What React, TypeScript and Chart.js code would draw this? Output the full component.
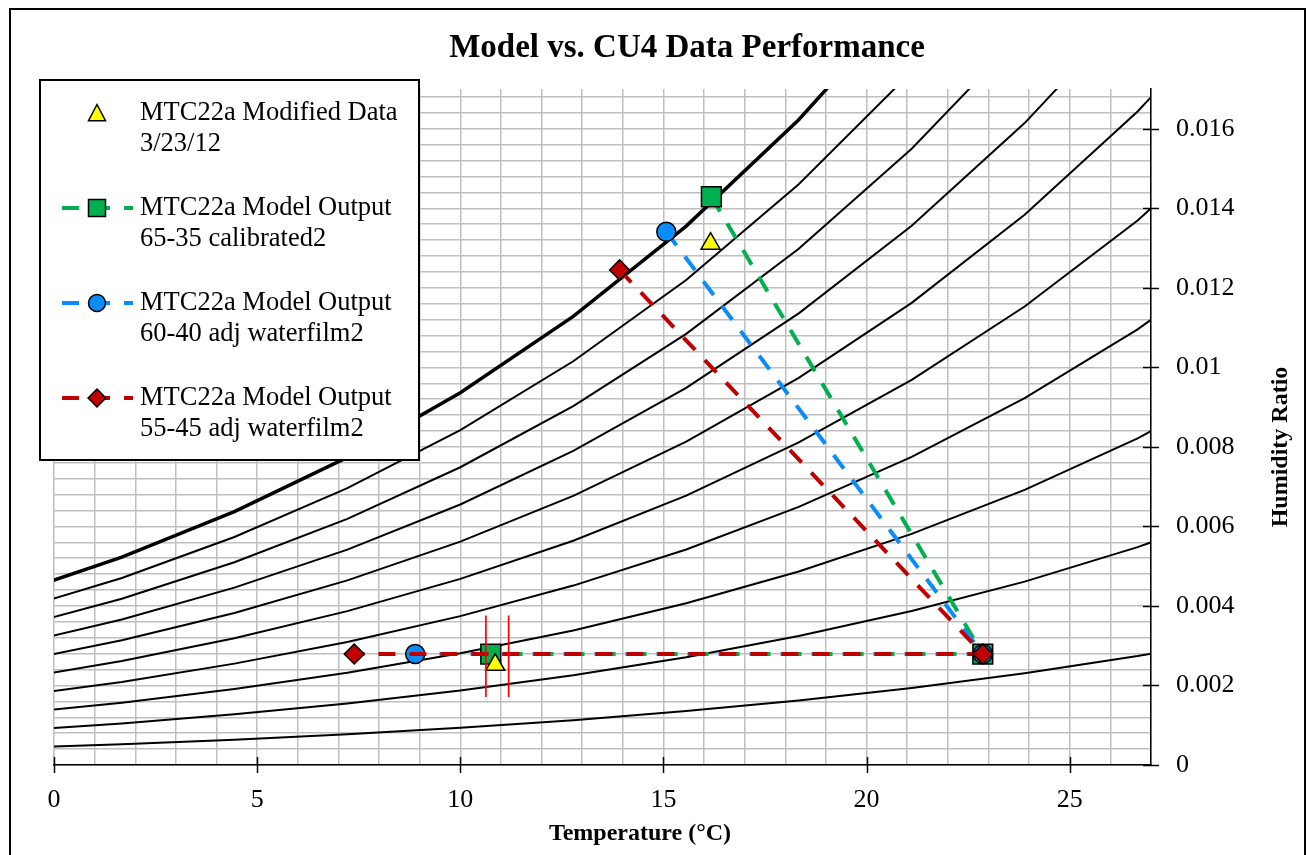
import React, { useEffect, useRef } from 'react';
import { Chart, registerables } from 'chart.js';

Chart.register(...registerables);

// ---------- data ----------
// temperatures (°C) of the points of each relative-humidity curve (30 °F … 85 °F in 5 °F steps)
const curveTempsC = [-1.11, 1.67, 4.44, 7.22, 10, 12.78, 15.56, 18.33, 21.11, 23.89, 26.67, 29.44];
const rh10 = [0.000427, 0.000523, 0.000637, 0.000774, 0.000936, 0.001128, 0.001355, 0.001623, 0.001937, 0.002306, 0.002739, 0.003245];
const rh20 = [0.000854, 0.001045, 0.001274, 0.001547, 0.001872, 0.002256, 0.00271, 0.003245, 0.003874, 0.004612, 0.005478, 0.006491];
const rh30 = [0.001281, 0.001568, 0.001912, 0.002321, 0.002808, 0.003384, 0.004066, 0.004868, 0.005812, 0.006919, 0.008216, 0.009736];
const rh40 = [0.001708, 0.00209, 0.002549, 0.003095, 0.003744, 0.004512, 0.005421, 0.006491, 0.007749, 0.009225, 0.010955, 0.012981];
const rh50 = [0.002135, 0.002613, 0.003186, 0.003869, 0.00468, 0.005641, 0.006776, 0.008114, 0.009686, 0.011531, 0.013694, 0.016227];
const rh60 = [0.002561, 0.003136, 0.003823, 0.004642, 0.005616, 0.006769, 0.008131, 0.009736, 0.011623, 0.013837, 0.016433, 0.019472];
const rh70 = [0.002988, 0.003658, 0.00446, 0.005416, 0.006552, 0.007897, 0.009486, 0.011359, 0.01356, 0.016143, 0.019172, 0.022717];
const rh80 = [0.003415, 0.004181, 0.005098, 0.00619, 0.007488, 0.009025, 0.010842, 0.012982, 0.015498, 0.01845, 0.02191, 0.025962];
const rh90 = [0.003842, 0.004703, 0.005735, 0.006963, 0.008424, 0.010153, 0.012197, 0.014604, 0.017435, 0.020756, 0.024649, 0.029208];
const rh100 = [0.004269, 0.005226, 0.006372, 0.007737, 0.00936, 0.011281, 0.013552, 0.016227, 0.019372, 0.023062, 0.027388, 0.032453];

const modifiedDataTemp = [16.16, 10.86];
const modifiedDataW = [0.01311, 0.00252];
const model6535Temp = [16.18, 22.86, 10.75];
const model6535W = [0.01429, 0.00279, 0.00279];
const model6040Temp = [15.07, 22.86, 8.89];
const model6040W = [0.01341, 0.00279, 0.00279];
const model5545Temp = [13.92, 22.86, 7.39];
const model5545W = [0.01245, 0.00279, 0.00279];

const errorCapTemps = [10.63, 11.19];
const errorCapW = [0.00376, 0.00171];

const xMajorTicks = [0, 5, 10, 15, 20, 25];
const yMajorTicks = [0, 0.002, 0.004, 0.006, 0.008, 0.01, 0.012, 0.014, 0.016];

const chartTitle = 'Model vs. CU4 Data Performance';
const xTitle = 'Temperature (°C)';
const yTitle = 'Humidity Ratio';

const legendModified = ['MTC22a Modified Data', '3/23/12'];
const legend6535 = ['MTC22a Model Output', '65-35 calibrated2'];
const legend6040 = ['MTC22a Model Output', '60-40 adj waterfilm2'];
const legend5545 = ['MTC22a Model Output', '55-45 adj waterfilm2'];

// ---------- styles ----------
const GREEN = '#00B050';
const BLUE = '#0A8CFA';
const DARKRED = '#C00000';
const YELLOW = '#FFFF00';
const SERIF = '"Liberation Serif", "DejaVu Serif", serif';

const toPts = (xs: number[], ys: number[]) => xs.map((x, i) => ({ x, y: ys[i] }));

function drawMarker(ctx: CanvasRenderingContext2D, shape: string, x: number, y: number, s: number, fill: string) {
  ctx.beginPath();
  if (shape === 'triangle') {
    ctx.moveTo(x, y - s);
    ctx.lineTo(x + s, y + s * 0.9);
    ctx.lineTo(x - s, y + s * 0.9);
    ctx.closePath();
  } else if (shape === 'rect') {
    ctx.rect(x - s, y - s, 2 * s, 2 * s);
  } else if (shape === 'circle') {
    ctx.arc(x, y, s, 0, Math.PI * 2);
  } else {
    ctx.moveTo(x, y - s * 1.05);
    ctx.lineTo(x + s * 1.05, y);
    ctx.lineTo(x, y + s * 1.05);
    ctx.lineTo(x - s * 1.05, y);
    ctx.closePath();
  }
  ctx.fillStyle = fill;
  ctx.fill();
  ctx.lineWidth = 1.5;
  ctx.strokeStyle = '#000';
  ctx.stroke();
}

const decorPlugin = {
  id: 'decor',
  beforeDraw(chart: any) {
    const ctx = chart.ctx as CanvasRenderingContext2D;
    ctx.save();
    ctx.fillStyle = '#fff';
    ctx.fillRect(0, 0, chart.width, chart.height);
    ctx.restore();
  },
  afterDraw(chart: any) {
    const ctx = chart.ctx as CanvasRenderingContext2D;
    const xs = chart.scales.x;
    const ys = chart.scales.y;
    const area = chart.chartArea;
    ctx.save();

    // crossing tick marks
    ctx.strokeStyle = '#000';
    ctx.lineWidth = 1.5;
    xMajorTicks.forEach((v) => {
      const px = Math.round(xs.getPixelForValue(v)) + 0.5;
      ctx.beginPath();
      ctx.moveTo(px, area.bottom - 8);
      ctx.lineTo(px, area.bottom + 8);
      ctx.stroke();
    });
    yMajorTicks.forEach((v) => {
      const py = Math.round(ys.getPixelForValue(v)) + 0.5;
      ctx.beginPath();
      ctx.moveTo(area.right - 8, py);
      ctx.lineTo(area.right + 8, py);
      ctx.stroke();
    });

    // titles
    ctx.fillStyle = '#000';
    ctx.textAlign = 'center';
    ctx.textBaseline = 'middle';
    ctx.font = `bold 33px ${SERIF}`;
    ctx.fillText(chartTitle, 687, 48);
    ctx.font = `bold 24px ${SERIF}`;
    ctx.fillText(xTitle, 640, 834);
    ctx.save();
    ctx.translate(1281, 447);
    ctx.rotate(-Math.PI / 2);
    ctx.fillText(yTitle, 0, 0);
    ctx.restore();

    // outer chart border
    ctx.lineWidth = 2;
    ctx.strokeStyle = '#000';
    ctx.strokeRect(10, 9, 1295, 870);

    // legend
    ctx.fillStyle = '#fff';
    ctx.fillRect(40, 80, 379, 380);
    ctx.lineWidth = 2;
    ctx.strokeStyle = '#000';
    ctx.strokeRect(40, 80, 379, 380);

    const entries = [
      { text: legendModified, shape: 'triangle', fill: YELLOW, line: null as string | null },
      { text: legend6535, shape: 'rect', fill: GREEN, line: GREEN },
      { text: legend6040, shape: 'circle', fill: BLUE, line: BLUE },
      { text: legend5545, shape: 'rectRot', fill: DARKRED, line: DARKRED },
    ];
    entries.forEach((e, i) => {
      const yc = 113 + i * 95;
      if (e.line) {
        ctx.save();
        ctx.strokeStyle = e.line;
        ctx.lineWidth = 4;
        ctx.setLineDash([17, 14]);
        ctx.beginPath();
        ctx.moveTo(62, yc);
        ctx.lineTo(133, yc);
        ctx.stroke();
        ctx.restore();
      }
      drawMarker(ctx, e.shape, 97, yc, 8.5, e.fill);
      ctx.fillStyle = '#000';
      ctx.textAlign = 'left';
      ctx.textBaseline = 'middle';
      ctx.font = `26.5px ${SERIF}`;
      ctx.fillText(e.text[0], 140, yc);
      ctx.fillText(e.text[1], 140, yc + 31);
    });

    ctx.restore();
  },
};

export default function App() {
  const canvasRef = useRef<HTMLCanvasElement | null>(null);

  useEffect(() => {
    if (!canvasRef.current) return;
    const curves = [rh10, rh20, rh30, rh40, rh50, rh60, rh70, rh80, rh90, rh100].map((vals, i) => ({
      type: 'line' as const,
      label: `RH ${(i + 1) * 10}%`,
      data: toPts(curveTempsC, vals),
      borderColor: '#000',
      borderWidth: i === 9 ? 3.5 : 2,
      pointRadius: 0,
      tension: 0,
      fill: false,
      order: 20,
    }));

    const chart = new Chart(canvasRef.current, {
      type: 'scatter',
      data: {
        datasets: [
          ...curves,
          {
            type: 'line',
            label: 'MTC22a Model Output 65-35 calibrated2',
            data: toPts(model6535Temp, model6535W),
            borderColor: GREEN,
            borderWidth: 4,
            borderDash: [17, 14],
            pointStyle: 'rect',
            pointRadius: 14,
            pointBackgroundColor: GREEN,
            pointBorderColor: '#000',
            pointBorderWidth: 1.5,
            tension: 0,
            fill: false,
            order: 4,
          },
          {
            type: 'line',
            label: 'MTC22a Model Output 60-40 adj waterfilm2',
            data: toPts(model6040Temp, model6040W),
            borderColor: BLUE,
            borderWidth: 4,
            borderDash: [17, 14],
            pointStyle: 'circle',
            pointRadius: 9.5,
            pointBackgroundColor: BLUE,
            pointBorderColor: '#000',
            pointBorderWidth: 1.5,
            tension: 0,
            fill: false,
            order: 3,
          },
          {
            type: 'line',
            label: 'MTC22a Model Output 55-45 adj waterfilm2',
            data: toPts(model5545Temp, model5545W),
            borderColor: DARKRED,
            borderWidth: 4,
            borderDash: [17, 14],
            pointStyle: 'rectRot',
            pointRadius: 10,
            pointBackgroundColor: DARKRED,
            pointBorderColor: '#000',
            pointBorderWidth: 1.5,
            tension: 0,
            fill: false,
            order: 2,
          },
          {
            type: 'scatter',
            label: 'MTC22a Modified Data 3/23/12',
            data: toPts(modifiedDataTemp, modifiedDataW),
            pointStyle: 'triangle',
            pointRadius: 11,
            pointBackgroundColor: YELLOW,
            pointBorderColor: '#000',
            pointBorderWidth: 1.5,
            showLine: false,
            order: 1,
          },
          ...errorCapTemps.map((t) => ({
            type: 'line' as const,
            label: 'error cap',
            data: toPts([t, t], errorCapW),
            borderColor: '#FF0000',
            borderWidth: 1.7,
            pointRadius: 0,
            fill: false,
            order: 0,
          })),
        ] as any,
      },
      options: {
        animation: false,
        responsive: false,
        events: [],
        layout: { padding: { left: 54, top: 89, right: 0, bottom: 0 } },
        plugins: {
          legend: { display: false },
          title: { display: false },
          tooltip: { enabled: false },
        },
        scales: {
          x: {
            type: 'linear',
            min: 0,
            max: 27,
            afterFit: (scale: any) => {
              scale.height = 90;
            },
            ticks: {
              stepSize: 1,
              autoSkip: false,
              maxRotation: 0,
              includeBounds: false,
              padding: 20,
              color: '#000',
              font: { family: SERIF, size: 26 },
              callback: (v: any) => (Number(v) % 5 === 0 ? String(v) : ''),
            },
            grid: { color: '#BFBFBF', lineWidth: 1.5, drawTicks: false },
            border: { color: '#000', width: 1.5 },
          },
          y: {
            type: 'linear',
            position: 'right',
            min: 0,
            max: 0.017,
            afterFit: (scale: any) => {
              scale.width = 157;
            },
            ticks: {
              stepSize: 0.0004,
              autoSkip: false,
              includeBounds: false,
              padding: 25,
              color: '#000',
              font: { family: SERIF, size: 26 },
              callback: (v: any) => {
                const n = Number(v);
                const k = n * 500;
                if (Math.abs(k - Math.round(k)) > 1e-6) return '';
                return n === 0 ? '0' : String(parseFloat(n.toFixed(3)));
              },
            },
            grid: { color: '#BFBFBF', lineWidth: 1.5, drawTicks: false },
            border: { color: '#000', width: 1.5 },
          },
        },
      } as any,
      plugins: [decorPlugin],
    });
    return () => chart.destroy();
  }, []);

  return (
    <div style={{ position: 'fixed', left: 0, top: 0, width: 1308, height: 855, background: '#fff' }}>
      <canvas ref={canvasRef} width={1308} height={855} style={{ display: 'block' }} />
    </div>
  );
}
